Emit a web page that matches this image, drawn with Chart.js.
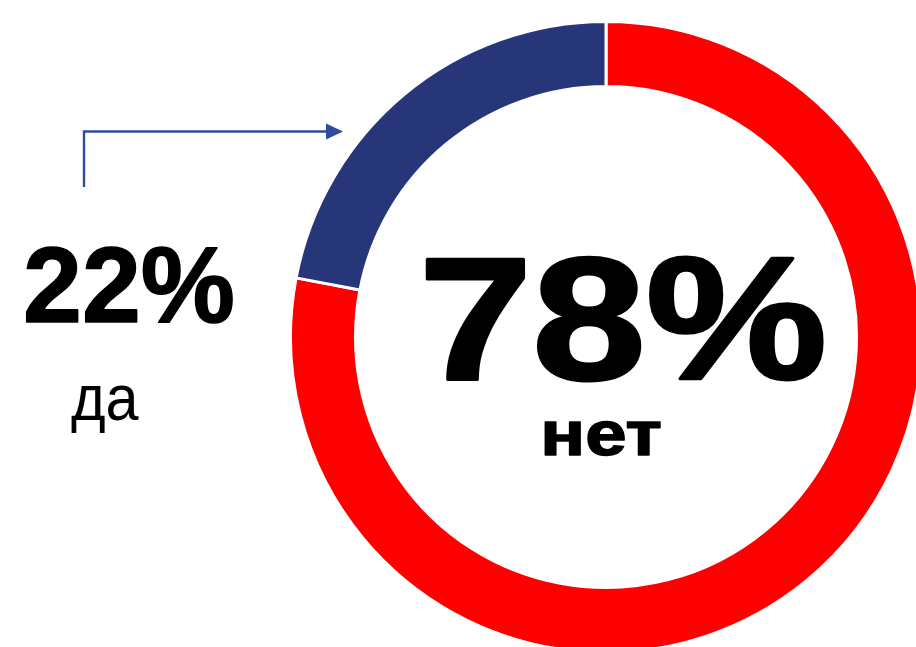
<!DOCTYPE html>
<html>
<head>
<meta charset="utf-8">
<script src="https://cdn.jsdelivr.net/npm/chart.js@4"></script>
<style>
  html, body { margin: 0; padding: 0; background: #fff; overflow: hidden; }
  canvas { display: block; }
</style>
</head>
<body>
<canvas id="pollChart" width="916" height="647"></canvas>
<script>
const labels = ["нет", "да"];
const values = [78, 22];
const colors = ["#ff0000", "#263678"];

// draws a string so that its ink spans [left, right], stretched sideways like the slide text
function drawStretched(ctx, text, font, left, right, baseline, weight) {
  ctx.save();
  ctx.font = font;
  ctx.textAlign = "left";
  ctx.textBaseline = "alphabetic";
  const m = ctx.measureText(text);
  const ink = m.actualBoundingBoxLeft + m.actualBoundingBoxRight;
  const sx = (right - left) / ink;
  ctx.translate(left + m.actualBoundingBoxLeft * sx, baseline);
  ctx.scale(sx, 1);
  ctx.fillStyle = "#000";
  ctx.fillText(text, 0, 0);
  if (weight) {
    // slide text is a touch heavier than the plain bold face
    ctx.strokeStyle = "#000";
    ctx.lineWidth = weight;
    ctx.lineJoin = "round";
    ctx.strokeText(text, 0, 0);
  }
  ctx.restore();
}

const annotations = {
  id: "annotations",
  afterDraw(chart) {
    const ctx = chart.ctx;
    // big value for "нет" in the middle of the ring
    drawStretched(ctx, values[0] + "%", "bold 174px 'Liberation Sans', Arial", 427, 823, 379, 3);
    drawStretched(ctx, labels[0], "bold 63px 'Liberation Sans', Arial", 545, 661, 455, 1.5);
    // value for "да" to the left
    drawStretched(ctx, values[1] + "%", "bold 108px 'Liberation Sans', Arial", 26, 233, 322, 1.5);
    drawStretched(ctx, labels[1], "64px 'Liberation Sans', Arial", 71, 139, 420, 0);

    // connector arrow pointing at the blue slice
    ctx.save();
    ctx.strokeStyle = "#2f4ba0";
    ctx.fillStyle = "#2f4ba0";
    ctx.lineWidth = 2.4;
    ctx.beginPath();
    ctx.moveTo(84, 187);
    ctx.lineTo(84, 131.5);
    ctx.lineTo(328, 131.5);
    ctx.stroke();
    ctx.beginPath();
    ctx.moveTo(343, 131.5);
    ctx.lineTo(326, 123.5);
    ctx.lineTo(326, 139.5);
    ctx.closePath();
    ctx.fill();
    ctx.restore();
  }
};

new Chart(document.getElementById("pollChart").getContext("2d"), {
  type: "doughnut",
  data: {
    labels: labels,
    datasets: [
      {
        data: values,
        backgroundColor: colors,
        borderColor: "#ffffff",
        borderWidth: 3,
        hoverOffset: 0,
        offset: 0,
        clip: false,
      },
    ],
  },
  options: {
    responsive: false,
    animation: false,
    radius: 315.5,
    cutout: "79.4%",
    layout: { padding: { left: 296, top: 27, right: 0, bottom: 0 } },
    plugins: {
      legend: { display: false },
      tooltip: { enabled: false },
    },
  },
  plugins: [annotations],
});
</script>
</body>
</html>
